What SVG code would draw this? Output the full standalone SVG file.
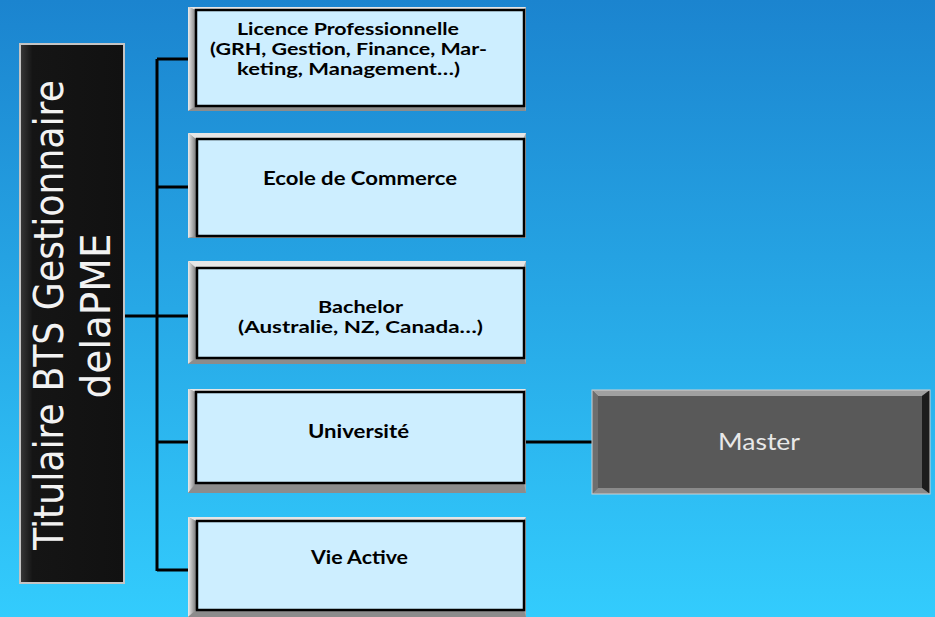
<svg xmlns="http://www.w3.org/2000/svg" width="935" height="617" viewBox="0 0 935 617">
<defs>
<linearGradient id="bg" x1="0" y1="0" x2="0" y2="1">
<stop offset="0" stop-color="#1b84cf"/>
<stop offset="1" stop-color="#33ccfd"/>
</linearGradient>
<linearGradient id="lb" x1="0" y1="0" x2="1" y2="0">
<stop offset="0" stop-color="#ececec"/>
<stop offset="1" stop-color="#7a7a7a"/>
</linearGradient>
<linearGradient id="vb" x1="0" y1="0" x2="1" y2="0">
<stop offset="0" stop-color="#3a3a3a"/>
<stop offset="0.12" stop-color="#151515"/>
<stop offset="1" stop-color="#111111"/>
</linearGradient>
</defs>
<style>
.conn{stroke:#000;stroke-width:3;fill:none}
.frame{fill:#a8a8a8}
.ftop{fill:#e6e6e6}
.fleft{fill:url(#lb)}
.fbot{fill:#8c8c8c}
.inner{fill:#cdeeff;stroke:#000;stroke-width:2.5}
.lbl{font-family:Lato,"Liberation Sans",sans-serif;font-weight:bold;font-size:19.5px;fill:#000;text-anchor:middle}
.ml{font-size:17px}
.vt{font-family:"DejaVu Sans","Open Sans",sans-serif;font-size:40px;fill:#f2f2f2;text-anchor:middle}
.mt{font-family:Lato,"Liberation Sans",sans-serif;font-size:24px;fill:#e8e8e8;text-anchor:middle}
</style>
<rect x="0" y="0" width="935" height="617" fill="url(#bg)"/>

<g id="connectors">
<path class="conn" d="M157 59 V571"/>
<path class="conn" d="M124 316 H190"/>
<path class="conn" d="M157 59 H190"/>
<path class="conn" d="M157 187 H190"/>
<path class="conn" d="M157 442 H190"/>
<path class="conn" d="M157 570 H190"/>
<path class="conn" d="M524 442 H594"/>
</g>

<g id="root">
<rect x="20" y="44" width="104" height="539" fill="url(#vb)" stroke="#c4c4c4" stroke-width="2"/>
<text class="vt" transform="translate(63,315) rotate(-90)" textLength="470" lengthAdjust="spacingAndGlyphs">Titulaire BTS Gestionnaire</text>
<text class="vt" transform="translate(110,316) rotate(-90)" textLength="165" lengthAdjust="spacingAndGlyphs">delaPME</text>
</g>

<g id="licence">
<rect class="frame" x="188" y="7" width="338" height="104"/>
<polygon class="ftop" points="188,7 526,7 523,10 196,10"/>
<polygon class="fleft" points="188,7 196,10 196,106 188,111"/>
<polygon class="fbot" points="188,111 196,106 524,106 526,111"/>
<rect class="inner" x="196" y="10" width="328" height="96"/>
<text class="lbl ml" x="348" y="35" textLength="222" lengthAdjust="spacingAndGlyphs">Licence Professionnelle</text>
<text class="lbl ml" x="348.5" y="55" textLength="277" lengthAdjust="spacingAndGlyphs">(GRH, Gestion, Finance, Mar-</text>
<text class="lbl ml" x="348.5" y="75" textLength="223" lengthAdjust="spacingAndGlyphs">keting, Management…)</text>
</g>

<g id="ecole">
<rect class="frame" x="188" y="133" width="338" height="105"/>
<polygon class="ftop" points="188,133 526,133 523,139 196,139"/>
<polygon class="fleft" points="188,133 196,139 196,236 188,238"/>
<polygon class="fbot" points="188,238 196,236 524,236 526,238"/>
<rect class="inner" x="197" y="139" width="327" height="97"/>
<text class="lbl" x="360" y="185" textLength="194" lengthAdjust="spacingAndGlyphs">Ecole de Commerce</text>
</g>

<g id="bachelor">
<rect class="frame" x="188" y="261" width="338" height="103"/>
<polygon class="ftop" points="188,261 526,261 523,268 196,268"/>
<polygon class="fleft" points="188,261 196,268 196,358 188,364"/>
<polygon class="fbot" points="188,364 196,358 524,358 526,364"/>
<rect class="inner" x="197" y="268" width="327" height="90"/>
<text class="lbl ml" x="360.5" y="313" textLength="85" lengthAdjust="spacingAndGlyphs">Bachelor</text>
<text class="lbl ml" x="360.5" y="333" textLength="245" lengthAdjust="spacingAndGlyphs">(Australie, NZ, Canada…)</text>
</g>

<g id="universite">
<rect class="frame" x="188" y="389" width="338" height="104"/>
<polygon class="ftop" points="188,389 526,389 523,392 196,392"/>
<polygon class="fleft" points="188,389 196,392 196,483 188,493"/>
<polygon class="fbot" points="188,493 196,483 524,483 526,493"/>
<rect class="inner" x="196" y="392" width="328" height="91"/>
<text class="lbl" x="358.5" y="438" textLength="101" lengthAdjust="spacingAndGlyphs">Université</text>
</g>

<g id="vie">
<rect class="frame" x="188" y="517" width="338" height="100"/>
<polygon class="ftop" points="188,517 526,517 523,521 196,521"/>
<polygon class="fleft" points="188,517 196,521 196,610 188,617"/>
<polygon class="fbot" points="188,617 196,610 524,610 526,617"/>
<rect class="inner" x="197" y="521" width="327" height="89"/>
<text class="lbl" x="359.5" y="564" textLength="97" lengthAdjust="spacingAndGlyphs">Vie Active</text>
</g>

<g id="master">
<rect x="592" y="390" width="338" height="104" fill="#595959"/>
<polygon points="592,390 930,390 922,396 598,396" fill="#a0a0a0"/>
<polygon points="930,390 930,494 922,488 922,396" fill="#1c1c1c"/>
<polygon points="592,390 598,396 598,488 592,494" fill="#6e6e6e"/>
<polygon points="592,494 598,488 922,488 930,494" fill="#8a8a8a"/>
<rect x="592" y="390" width="338" height="104" fill="none" stroke="#cfcfcf" stroke-width="1"/>
<text class="mt" x="759" y="450" textLength="82" lengthAdjust="spacingAndGlyphs">Master</text>
</g>
</svg>
